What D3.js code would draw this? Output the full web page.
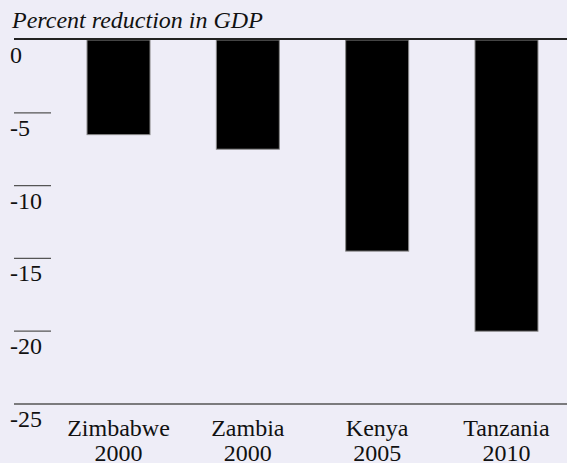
<!DOCTYPE html>
<html>
<head>
<meta charset="utf-8">
<script src="https://cdn.jsdelivr.net/npm/d3@7"></script>
<style>
  html, body { margin: 0; padding: 0; background: #EEEDF7; }
  svg { display: block; }
</style>
</head>
<body>
<svg id="chart" width="567" height="463"></svg>
<script>
const categories = ["Zimbabwe", "Zambia", "Kenya", "Tanzania"];
const years = ["2000", "2000", "2005", "2010"];
const values = [-6.5, -7.5, -14.5, -20];
const tickValues = [0, -5, -10, -15, -20, -25];
const title = "Percent reduction in GDP";

const W = 567, H = 463;
const FONT = "'Liberation Serif', Tinos, 'Times New Roman', Times, serif";
const svg = d3.select("#chart");
svg.append("rect").attr("width", W).attr("height", H).attr("fill", "#EEEDF7");

const y = d3.scaleLinear().domain([0, -25]).range([40, 404]);
const x = d3.scaleBand().domain(categories).range([54.7, 570.3])
  .paddingInner(0.513).paddingOuter(0.25);

const FS = 24;

svg.append("text")
  .attr("x", 12).attr("y", 28)
  .attr("font-family", FONT)
  .attr("font-size", FS).attr("font-style", "italic").attr("fill", "#111")
  .text(title);

svg.selectAll("rect.bar").data(values).join("rect")
  .attr("class", "bar")
  .attr("x", (d, i) => x(categories[i]))
  .attr("width", x.bandwidth())
  .attr("y", y(0))
  .attr("height", d => y(d) - y(0))
  .attr("fill", "#000")
  .attr("stroke", "#888").attr("stroke-width", 1);

svg.selectAll("line.tick").data(tickValues).join("line")
  .attr("class", "tick")
  .attr("x1", 14)
  .attr("x2", d => (d === 0 || d === -25) ? W : 51)
  .attr("y1", d => y(d) - (d === 0 ? 1 : 0))
  .attr("y2", d => y(d) - (d === 0 ? 1 : 0))
  .attr("stroke", d => d === 0 ? "#222" : "#555")
  .attr("stroke-width", d => d === 0 ? 2 : 1.3);

svg.selectAll("text.tl").data(tickValues).join("text")
  .attr("class", "tl")
  .attr("x", 10).attr("y", d => y(d) + 23)
  .attr("font-family", FONT).attr("fill", "#111")
  .attr("font-size", FS)
  .text(d => d === 0 ? "0" : "-" + Math.abs(d));

const cat = svg.selectAll("g.cat").data(categories).join("g")
  .attr("class", "cat")
  .attr("transform", d => `translate(${x(d) + x.bandwidth() / 2},0)`);
cat.append("text").attr("y", 436).attr("text-anchor", "middle")
  .attr("font-family", FONT).attr("fill", "#111")
  .attr("font-size", FS).text(d => d);
cat.append("text").attr("y", 461).attr("text-anchor", "middle")
  .attr("font-family", FONT).attr("fill", "#111")
  .attr("font-size", FS).text((d, i) => years[i]);
</script>
</body>
</html>
